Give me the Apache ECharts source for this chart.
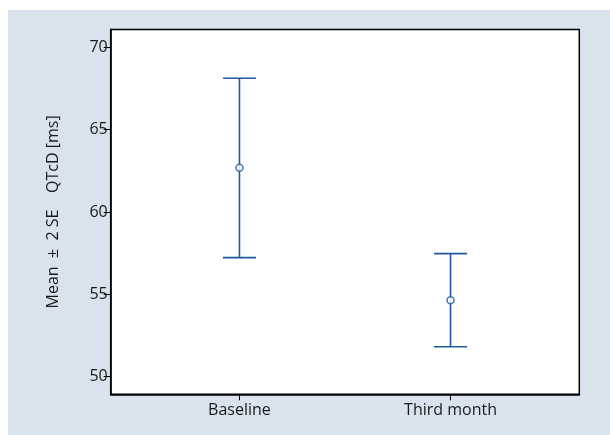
<!DOCTYPE html>
<html>
<head>
<meta charset="utf-8">
<script src="https://cdn.jsdelivr.net/npm/echarts@6/dist/echarts.min.js"></script>
<style>
html,body{margin:0;padding:0;background:#fff;}
#c{width:610px;height:435px;}
</style>
</head>
<body>
<div id="c"></div>
<script>
var categories = ['Baseline', 'Third month'];
var catPos = [1, 2];
var means = [62.69, 54.64];
var upper = [68.12, 57.47];
var lower = [57.23, 51.82];
var yTicks = [50, 55, 60, 65, 70];

var color = '#1f5a9c';
var font = 'Open Sans';

var chart = echarts.init(document.getElementById('c'), null, {renderer: 'canvas'});

var barData = catPos.map(function (p, i) { return [p, lower[i], upper[i]]; });
var meanData = catPos.map(function (p, i) { return [p, means[i]]; });

chart.setOption({
  animation: false,
  backgroundColor: '#ffffff',
  graphic: [{
    type: 'rect', left: 8, top: 10, z: -10,
    shape: {width: 602, height: 425},
    style: {fill: '#d9e3ed'}
  }],
  grid: {
    left: 110.7, top: 29.5, right: 30.7, bottom: 40.7,
    show: true, backgroundColor: '#ffffff', borderColor: '#000', borderWidth: 1.5
  },
  xAxis: {
    type: 'value', min: 0.39, max: 2.61,
    axisLine: {show: true, onZero: false, lineStyle: {color: '#000', width: 1.5}},
    axisTick: {show: true, customValues: catPos, length: 6, lineStyle: {color: '#000'}},
    axisLabel: {
      customValues: catPos, margin: 8,
      formatter: function (v) { return categories[Math.round(v) - 1]; },
      fontFamily: font, fontSize: 16, color: '#1a1a1a'
    },
    splitLine: {show: false}
  },
  yAxis: {
    type: 'value', min: 48.93, max: 71.08,
    name: 'Mean \u00a0\u00b1\u00a0 2 SE \u00a0 \u00a0QTcD [ms]',
    nameLocation: 'middle', nameGap: 49, nameRotate: 90,
    nameTextStyle: {fontFamily: font, fontSize: 16, color: '#1a1a1a'},
    axisLine: {show: true, onZero: false, lineStyle: {color: '#000', width: 1.5}},
    axisTick: {show: true, customValues: yTicks, length: 7, lineStyle: {color: '#000'}},
    axisLabel: {customValues: yTicks, margin: 3, fontFamily: font, fontSize: 16, color: '#1a1a1a'},
    splitLine: {show: false}
  },
  series: [{
    type: 'custom',
    data: barData,
    renderItem: function (params, api) {
      var x = api.value(0);
      var lo = api.coord([x, api.value(1)]);
      var hi = api.coord([x, api.value(2)]);
      var half = 16.5;
      var st = {stroke: color, lineWidth: 1.6};
      return {
        type: 'group',
        children: [
          {type: 'line', shape: {x1: lo[0], y1: lo[1], x2: hi[0], y2: hi[1]}, style: st},
          {type: 'line', shape: {x1: hi[0] - half, y1: hi[1], x2: hi[0] + half, y2: hi[1]}, style: st},
          {type: 'line', shape: {x1: lo[0] - half, y1: lo[1], x2: lo[0] + half, y2: lo[1]}, style: st}
        ]
      };
    },
    z: 2
  }, {
    type: 'scatter',
    data: meanData,
    symbol: 'circle', symbolSize: 7,
    itemStyle: {color: '#fff', borderColor: color, borderWidth: 1.6},
    z: 3
  }]
});
</script>
</body>
</html>
